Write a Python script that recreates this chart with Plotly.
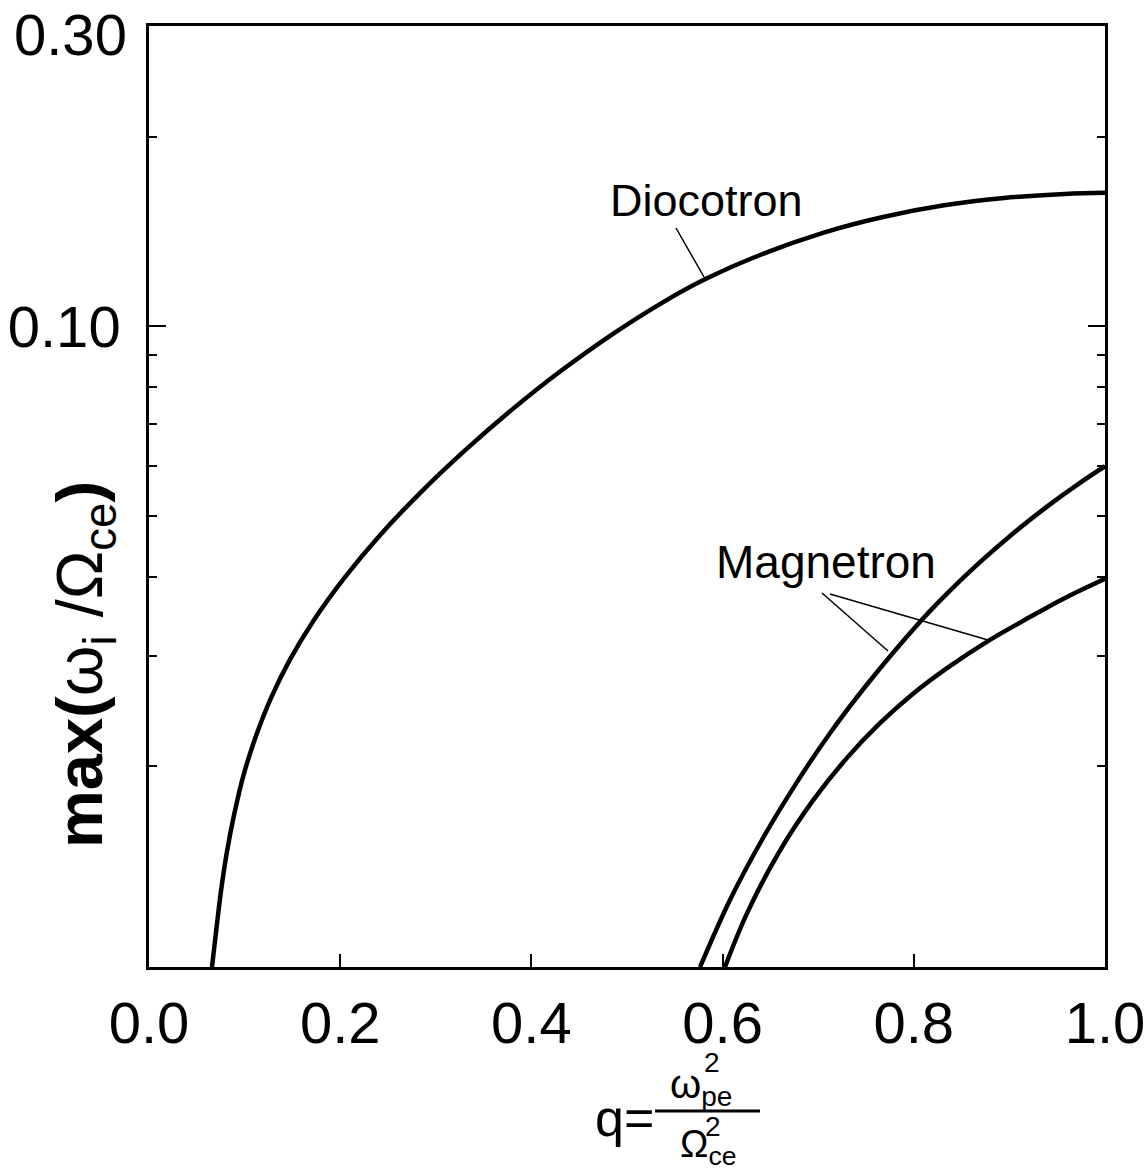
import plotly.graph_objects as go

# Maximum growth rate versus q for the diocotron and magnetron branches
q_dioc = [0.0659, 0.0706, 0.0755, 0.0816, 0.0894, 0.0991, 0.1118, 0.1278, 0.1477, 0.1719,
          0.205, 0.2416, 0.2835, 0.3305, 0.3797, 0.431, 0.4854, 0.5397, 0.5826, 0.6412,
          0.705, 0.7678, 0.8316, 0.8944, 0.9582, 1.0]
g_dioc = [0.0096, 0.01107, 0.01274, 0.01466, 0.01686, 0.01942, 0.02233, 0.02572, 0.02960, 0.03405,
          0.03996, 0.04658, 0.05435, 0.06352, 0.07375, 0.0850, 0.09732, 0.1097, 0.1190, 0.1302,
          0.1408, 0.1492, 0.1557, 0.1600, 0.1623, 0.1630]

q_mag1 = [0.5764, 0.6077, 0.6423, 0.6778, 0.7123, 0.751, 0.8033, 0.8347, 0.8692, 0.9038,
          0.9393, 0.9738, 1.0]
g_mag1 = [0.0096, 0.01227, 0.01539, 0.01888, 0.02258, 0.02698, 0.03352, 0.03762, 0.04221, 0.04689,
          0.05173, 0.05643, 0.05996]

q_mag2 = [0.6025, 0.6255, 0.66, 0.6946, 0.7301, 0.7646, 0.7992, 0.8347, 0.8776, 0.9215,
          0.9561, 1.0]
g_mag2 = [0.0096, 0.01168, 0.0147, 0.01766, 0.02063, 0.02342, 0.02609, 0.02865, 0.03163, 0.03453,
          0.0369, 0.03972]

x_ticks = [0.0, 0.2, 0.4, 0.6, 0.8, 1.0]
y_major = [0.1, 0.3]
y_major_text = ["0.10", ""]   # the top label is placed separately, just below the frame corner
y_top_label = "0.30"
y_minor = [0.02, 0.03, 0.04, 0.05, 0.06, 0.07, 0.08, 0.09, 0.2]

W, H = 1148, 1171
L, R, T, B = 149, 43, 26, 204
PW, PH = W - L - R, H - T - B


def px(x):
    return (x - L) / PW


def py(y):
    return (H - B - y) / PH


FONT = "Liberation Sans, Arial, sans-serif"
line_style = dict(color="black", width=4.5, shape="spline", smoothing=1.0)

fig = go.Figure()
for xs, ys in [(q_dioc, g_dioc), (q_mag1, g_mag1), (q_mag2, g_mag2)]:
    fig.add_trace(go.Scatter(x=xs, y=ys, mode="lines", line=line_style,
                             showlegend=False, hoverinfo="skip"))

fig.update_layout(
    width=W, height=H,
    margin=dict(l=L, r=R, t=T, b=B, autoexpand=False),
    paper_bgcolor="white", plot_bgcolor="white",
    font=dict(family=FONT, color="black"),
    xaxis=dict(range=[0, 1], tickvals=x_ticks, tickformat=".1f", automargin=False,
               ticks="inside", ticklen=13, tickwidth=2, tickcolor="black",
               showline=True, linewidth=2.5, linecolor="black", mirror=True,
               showgrid=False, zeroline=False,
               tickfont=dict(size=58, family=FONT), ticklabelstandoff=4),
    yaxis=dict(type="log", range=[-2.0177, -0.5228], automargin=False,
               tickvals=y_major, ticktext=y_major_text,
               ticks="inside", ticklen=17, tickwidth=2, tickcolor="black",
               showline=True, linewidth=2.5, linecolor="black", mirror="ticks",
               showgrid=False, zeroline=False,
               tickfont=dict(size=58, family=FONT), ticklabelstandoff=14,
               minor=dict(tickvals=y_minor, ticks="inside", ticklen=8,
                          tickwidth=2, tickcolor="black", showgrid=False)),
)

ann = []


def text(x, y, s, size, **kw):
    ann.append(dict(x=px(x), y=py(y), xref="paper", yref="paper", text=s,
                    showarrow=False, xanchor=kw.pop("xanchor", "center"),
                    yanchor=kw.pop("yanchor", "middle"),
                    font=dict(size=size, family=FONT, color="black"), **kw))


# top y tick label
text(129, 34, y_top_label, 58, xanchor="right")

# curve labels
text(706, 200, "Diocotron", 45)
text(826, 562, "Magnetron", 46)

# y-axis title
text(84, 665, "<b>max(</b>ω<sub>i</sub> /Ω<sub>ce</sub><b>)</b>", 65, textangle=-90)

# x-axis title: q = ω_pe^2 / Ω_ce^2
text(624, 1118, "q=", 52)
text(701, 1087, "ω<sub>pe</sub>", 40)
text(712, 1062, "2", 28)
text(708, 1147, "Ω<sub>ce</sub>", 38)
text(713, 1126, "2", 28)
fig.update_layout(annotations=ann)

shapes = []


def seg(x0, y0, x1, y1, w):
    shapes.append(dict(type="line", xref="paper", yref="paper",
                       x0=px(x0), y0=py(y0), x1=px(x1), y1=py(y1),
                       line=dict(color="black", width=w)))


seg(655, 1111, 760, 1111, 3)       # fraction bar
seg(676, 228, 704, 277, 1.5)       # Diocotron pointer
seg(822, 593, 888, 651, 1.5)       # Magnetron pointers
seg(830, 594, 988, 640, 1.5)
fig.update_layout(shapes=shapes)

fig.write_html("out.html")
